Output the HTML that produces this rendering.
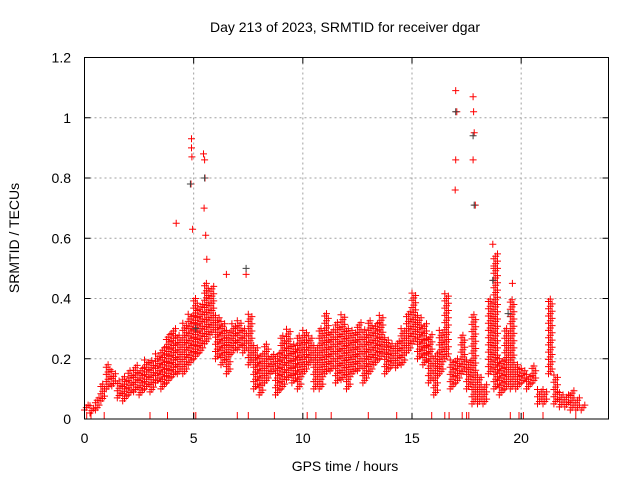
<!DOCTYPE html>
<html><head><meta charset="utf-8"><style>
body{margin:0;background:#fff}
svg{display:block;font-family:"Liberation Sans",sans-serif}
</style></head><body>
<svg id="chart" width="640" height="480" viewBox="0 0 640 480" xmlns="http://www.w3.org/2000/svg">
<text x="345" y="32" text-anchor="middle" font-size="14">Day 213 of 2023, SRMTID for receiver dgar</text>
<text x="345" y="471" text-anchor="middle" font-size="14">GPS time / hours</text>
<text transform="translate(19,238) rotate(-90)" text-anchor="middle" font-size="14">SRMTID / TECUs</text>
<g id="grid"></g>
<g id="marks"></g>
<rect x="84.5" y="57.5" width="524" height="361.5" fill="none" stroke="#000" stroke-width="1"/>
<g id="ticks"></g>
</svg>
<script>
const xTicks=[0,5,10,15,20];
const yTicks=[0,0.2,0.4,0.6,0.8,1,1.2];
const yTickLabels=["0","0.2","0.4","0.6","0.8","1","1.2"];
const times=[0,0.25,0.5,0.75,1,1.25,1.5,1.75,2,2.25,2.5,2.75,3,3.25,3.5,3.75,4,4.25,4.5,4.75,5,5.25,5.5,5.75,6,6.25,6.5,6.75,7,7.25,7.5,7.75,8,8.25,8.5,8.75,9,9.25,9.5,9.75,10,10.25,10.5,10.75,11,11.25,11.5,11.75,12,12.25,12.5,12.75,13,13.25,13.5,13.75,14,14.25,14.5,14.75,15,15.25,15.5,15.75,16,16.25,16.5,16.75,17,17.25,17.5,17.75,18,18.25,18.5,18.75,19,19.25,19.5,19.75,20,20.25,20.5,20.75,21,21.25,21.5,21.75,22,22.25,22.5,22.75];
const lowVals=[.03,.02,.03,.06,.10,.11,.07,.06,.08,.09,.08,.10,.09,.12,.10,.12,.14,.15,.15,.18,.20,.22,.25,.28,.20,.18,.15,.22,.23,.22,.18,.10,.08,.12,.15,.08,.10,.13,.12,.10,.15,.18,.10,.10,.15,.16,.12,.13,.10,.15,.16,.12,.15,.18,.20,.15,.17,.17,.18,.22,.25,.20,.18,.12,.08,.15,.20,.10,.12,.15,.10,.05,.05,.05,.15,.10,.08,.10,.10,.10,.12,.10,.12,.05,.05,.15,.05,.04,.04,.03,.03,.03];
const highVals=[.05,.05,.07,.12,.18,.16,.13,.14,.16,.18,.17,.20,.20,.22,.24,.28,.30,.28,.32,.35,.40,.38,.45,.44,.35,.33,.30,.32,.33,.30,.35,.25,.22,.25,.22,.22,.28,.30,.25,.28,.30,.28,.25,.30,.35,.30,.32,.35,.30,.30,.32,.30,.33,.32,.35,.27,.25,.26,.30,.36,.42,.35,.32,.28,.22,.30,.42,.20,.20,.28,.20,.35,.15,.12,.40,.55,.20,.30,.40,.18,.17,.15,.18,.10,.10,.40,.15,.09,.08,.10,.07,.05];
const spikeTimes=[4.9,4.9,4.92,4.88,4.95,5.45,5.5,5.52,5.48,5.55,5.6,4.2,7.4,17.0,17.0,16.98,17.05,17.8,17.82,17.85,17.8,17.9,18.7,18.75,19.6,6.5];
const spikeVals=[0.93,0.9,0.87,0.78,0.63,0.88,0.86,0.8,0.7,0.61,0.53,0.65,0.48,1.09,0.86,0.76,1.02,1.07,1.02,0.95,0.86,0.71,0.58,0.5,0.45,0.48];
const zeroTimes=[0.1,0.3,0.9,3.0,3.8,5.0,5.1,7.0,7.5,8.7,10.2,10.6,11.3,13.0,14.3,15.9,16.5,16.7,17.3,17.5,17.6,19.5,19.9,20.1,21.0,22.5];
const blackTimes=[4.85,5.5,7.4,17.0,17.8,17.85,18.7,19.4,5.1];
const blackVals=[0.78,0.8,0.5,1.02,0.94,0.71,0.46,0.35,0.3];
const X0=84.5,X1=608.5,Y0=419,Y1=57.5,XMAX=24,YMAX=1.2;
const xs=v=>X0+(X1-X0)*v/XMAX, ys=v=>Y0-(Y0-Y1)*v/YMAX;
const NS="http://www.w3.org/2000/svg";
const grid=document.getElementById('grid'),ticks=document.getElementById('ticks'),marks=document.getElementById('marks');
function mk(tag,at,p){const e=document.createElementNS(NS,tag);for(const k in at)e.setAttribute(k,at[k]);p.appendChild(e);return e;}
xTicks.forEach(t=>{const x=xs(t);
 const g=mk('line',{x1:x,x2:x,y1:Y1,y2:Y0,stroke:'#a0a0a0','stroke-dasharray':'2,3'},grid);
 
 
 mk('line',{x1:x,x2:x,y1:Y0,y2:Y0-6,stroke:'#000'},ticks);
 mk('line',{x1:x,x2:x,y1:Y1,y2:Y1+6,stroke:'#000'},ticks);
 const l=mk('text',{x:x,y:443,'text-anchor':'middle','font-size':14},ticks);l.textContent=t;
 
 });
yTicks.forEach((t,i)=>{const y=ys(t);
 const g=mk('line',{x1:X0,x2:X1,y1:y,y2:y,stroke:'#a0a0a0','stroke-dasharray':'2,3'},grid);
 
 
 mk('line',{x1:X0,x2:X0+6,y1:y,y2:y,stroke:'#000'},ticks);
 mk('line',{x1:X1,x2:X1-6,y1:y,y2:y,stroke:'#000'},ticks);
 const l=mk('text',{x:71,y:y+5,'text-anchor':'end','font-size':14},ticks);l.textContent=yTickLabels[i];
 
 });
let d='',db='';
function cross(t,v){const x=xs(t),y=ys(v);return `M${(x-3.5).toFixed(1)} ${y.toFixed(1)}h7M${x.toFixed(1)} ${(y-3.5).toFixed(1)}v7`;}
times.forEach((t,i)=>{for(let s=0;s<3;s++){const tt=t+s*0.083;
 for(let v=lowVals[i]+s*0.008;v<=highVals[i]+1e-9;v+=0.024)d+=cross(tt,v);}});
spikeTimes.forEach((t,i)=>{d+=cross(t,spikeVals[i]);});
zeroTimes.forEach(t=>{const x=xs(t);d+=`M${x.toFixed(1)} ${Y0-7}v7`;});
blackTimes.forEach((t,i)=>{db+=cross(t,blackVals[i]);});
const pr=mk('path',{d:d,stroke:'#ff0000','stroke-width':1,fill:'none'},marks);


const pb=mk('path',{d:db,stroke:'#404040','stroke-width':1,fill:'none'},marks);


</script>
</body></html>
